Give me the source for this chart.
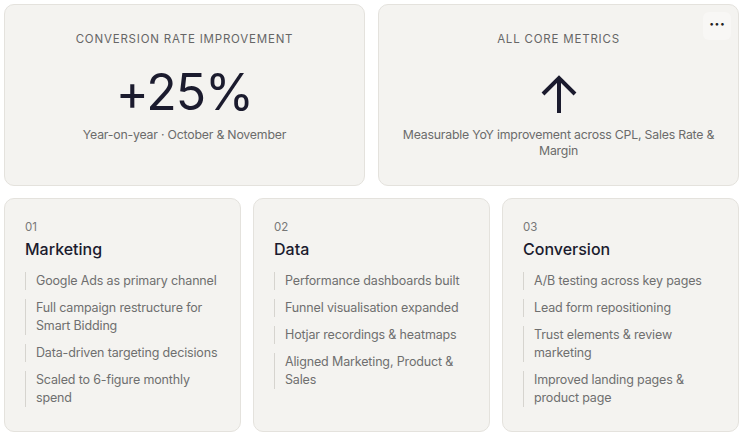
<!DOCTYPE html>
<html>
<head>
<meta charset="utf-8">
<script src="https://cdn.jsdelivr.net/npm/chart.js@4"></script>
<style>
  * { box-sizing: border-box; margin: 0; padding: 0; }
  body { width: 743px; height: 437px; background: #fff; font-family: Inter, "Noto Sans", sans-serif; position: relative; overflow: hidden; }
  .card { position: absolute; background: #f4f3f0; border: 1px solid #e4e2dd; border-radius: 10px; }
  .top { top: 4px; height: 182px; width: 361px; text-align: center; }
  .label { position: absolute; left: 0; right: 0; top: 27px; font-size: 11.5px; letter-spacing: 0.8px; color: #666; }
  .big { position: absolute; left: 0; right: 0; top: 57px; font-size: 50px; font-weight: 400; color: #1b1b2e; line-height: 60px; letter-spacing: -1px; }
  .sub { position: absolute; left: 16px; right: 16px; top: 122px; font-size: 12.3px; color: #6b6b6b; line-height: 16px; letter-spacing: -0.2px; }
  .dots { position: absolute; right: 7px; top: 7px; width: 28px; height: 28px; background: #f8f7f5; border-radius: 6px; font-size: 16px; font-weight: 700; line-height: 24px; color: #222; }
  .arrow { position: absolute; left: 50%; top: 68px; margin-left: -21px; }
  .bot { top: 198px; height: 234px; width: 237px; padding: 20px 0 0 20px; }
  .num { font-size: 11.5px; color: #777; margin-top: 1px; }
  .title { font-size: 16px; font-weight: 500; color: #1b1b2e; margin-top: 5px; }
  ul { list-style: none; margin-top: 13px; }
  li { font-size: 12.5px; line-height: 18px; color: #6f6f6f; border-left: 1px solid #d6d4cf; padding-left: 10px; margin-bottom: 9px; margin-right: 12px; letter-spacing: -0.15px; }
</style>
</head>
<body>
<script>
const headLabels = ['CONVERSION RATE IMPROVEMENT', 'ALL CORE METRICS'];
const headValues = ['+25%', ''];
const headSubs = ['Year-on-year · October & November', 'Measurable YoY improvement across CPL, Sales Rate & Margin'];
const colNumbers = ['01', '02', '03'];
const colTitles = ['Marketing', 'Data', 'Conversion'];
const colItems = [
  ['Google Ads as primary channel', 'Full campaign restructure for Smart Bidding', 'Data-driven targeting decisions', 'Scaled to 6-figure monthly spend'],
  ['Performance dashboards built', 'Funnel visualisation expanded', 'Hotjar recordings & heatmaps', 'Aligned Marketing, Product & Sales'],
  ['A/B testing across key pages', 'Lead form repositioning', 'Trust elements & review marketing', 'Improved landing pages & product page']
];

const topLeft = [4, 378];
const botLeft = [4, 253, 502];

headLabels.forEach((lab, i) => {
  const c = document.createElement('div');
  c.className = 'card top';
  c.style.left = topLeft[i] + 'px';
  let html = `<div class="label">${lab}</div>`;
  if (headValues[i]) html += `<div class="big">${headValues[i]}</div>`;
  else html += `<svg class="arrow" width="42" height="42" viewBox="0 0 42 42"><path d="M21 40 V5 M5 21 L21 5 L37 21" stroke="#1b1b2e" stroke-width="4" fill="none"/></svg><div class="dots">···</div>`;
  html += `<div class="sub">${headSubs[i]}</div>`;
  c.innerHTML = html;
  document.body.appendChild(c);
});

colTitles.forEach((t, i) => {
  const c = document.createElement('div');
  c.className = 'card bot';
  c.style.left = botLeft[i] + 'px';
  c.innerHTML = `<div class="num">${colNumbers[i]}</div><div class="title">${t}</div><ul>` +
    colItems[i].map(s => `<li>${s}</li>`).join('') + '</ul>';
  document.body.appendChild(c);
});
</script>
</body>
</html>
